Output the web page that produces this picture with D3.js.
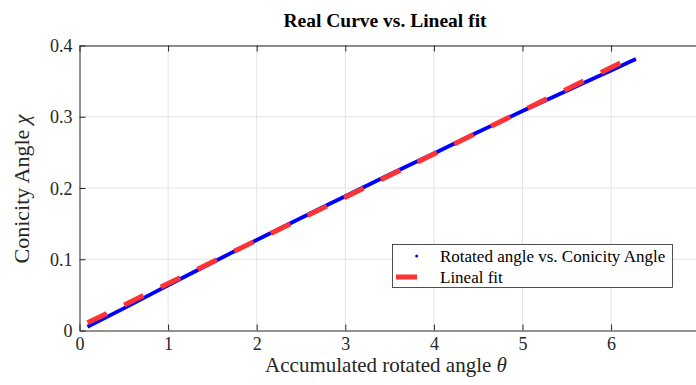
<!DOCTYPE html>
<html>
<head>
<meta charset="utf-8">
<script src="https://cdn.jsdelivr.net/npm/d3@7"></script>
<style>
  body { margin: 0; background: #fff; }
  svg { display: block; font-family: "Liberation Serif", "Times New Roman", serif; }
</style>
</head>
<body>
<div id="chart"></div>
<script>
// Chart size
var width = 696;
var height = 385;

var thetaValues = [0.09, 0.5, 1, 1.5, 2, 2.5, 3, 3.5, 4, 4.5, 5, 5.5, 6, 6.28];
var chiValues = [0.0053, 0.031, 0.0635, 0.0955, 0.127, 0.158, 0.1885, 0.219, 0.2485, 0.2785, 0.308, 0.3365, 0.365, 0.381];

// Lineal fit end points
var fitTheta = [0.09, 6.28];
var fitChi = [0.0108, 0.386];

// Ticks
var xTicks = [0, 1, 2, 3, 4, 5, 6, 7];
var yTicks = [0, 0.1, 0.2, 0.3, 0.4];
var legendLabels = ["Rotated angle vs. Conicity Angle", "Lineal fit"];

// Plot box
var plotLeft = 79.5, plotRight = 699.7, plotTop = 45.5, plotBottom = 330.5;

var x = d3.scaleLinear().domain([0, 7]).range([plotLeft, plotRight]);
var y = d3.scaleLinear().domain([0, 0.4]).range([plotBottom, plotTop]);

var svg = d3.select("#chart")
    .append("svg")
    .attr("width", width)
    .attr("height", height);

// Grid lines
svg.append("g")
    .selectAll("line")
    .data(xTicks.slice(1))
    .enter()
    .append("line")
    .attr("x1", d => x(d)).attr("x2", d => x(d))
    .attr("y1", plotTop).attr("y2", plotBottom)
    .attr("stroke", "#e3e3e3")
    .attr("stroke-width", 1);

svg.append("g")
    .selectAll("line")
    .data(yTicks.slice(1))
    .enter()
    .append("line")
    .attr("x1", plotLeft).attr("x2", plotRight)
    .attr("y1", d => y(d)).attr("y2", d => y(d))
    .attr("stroke", "#e3e3e3")
    .attr("stroke-width", 1);

// Axes with inward ticks
var xAxis = svg.append("g")
    .attr("transform", "translate(0," + plotBottom + ")")
    .call(d3.axisBottom(x).tickValues(xTicks).tickSizeInner(-6).tickSizeOuter(0).tickFormat(d3.format("d")));
var xAxisTop = svg.append("g")
    .attr("transform", "translate(0," + plotTop + ")")
    .call(d3.axisTop(x).tickValues(xTicks).tickSizeInner(-6).tickSizeOuter(0).tickFormat(""));
var yAxis = svg.append("g")
    .attr("transform", "translate(" + plotLeft + ",0)")
    .call(d3.axisLeft(y).tickValues(yTicks).tickSizeInner(-6).tickSizeOuter(0).tickFormat(d => d === 0 ? "0" : d3.format(".1f")(d)));

[xAxis, xAxisTop, yAxis].forEach(function (g) {
    g.selectAll("path, line").attr("stroke", "#262626").attr("stroke-width", 1);
    g.selectAll("text")
        .attr("fill", "#262626")
        .style("font-family", "'Liberation Serif', serif")
        .style("font-size", "18px");
});
xAxis.selectAll("text").attr("y", 7).attr("dy", "0.71em");
yAxis.selectAll("text").attr("x", -7).attr("dy", "0.34em");

// Real curve (dense blue markers)
var line = d3.line()
    .x(function (d, i) { return x(thetaValues[i]); })
    .y(function (d) { return y(d); })
    .curve(d3.curveMonotoneX);

svg.append("path")
    .datum(chiValues)
    .attr("d", line)
    .attr("fill", "none")
    .attr("stroke", "#0000ff")
    .attr("stroke-width", 3.8)
    .attr("stroke-linejoin", "round");

// Lineal fit (dashed red)
var fitLine = d3.line()
    .x(function (d, i) { return x(fitTheta[i]); })
    .y(function (d) { return y(d); });

svg.append("path")
    .datum(fitChi)
    .attr("d", fitLine)
    .attr("fill", "none")
    .attr("stroke", "#ff3333")
    .attr("stroke-width", 5)
    .attr("stroke-dasharray", "21.5,19.3");

// Title and axis labels
svg.append("text")
    .attr("x", 385)
    .attr("y", 27)
    .attr("text-anchor", "middle")
    .attr("font-weight", "bold")
    .attr("font-size", "19.5px")
    .attr("fill", "#000")
    .text("Real Curve vs. Lineal fit");

var xLabel = svg.append("text")
    .attr("x", 386)
    .attr("y", 372)
    .attr("text-anchor", "middle")
    .attr("font-size", "21px")
    .attr("fill", "#262626");
xLabel.append("tspan").text("Accumulated rotated angle ");
xLabel.append("tspan").attr("font-style", "italic").text("θ");

var yLabel = svg.append("text")
    .attr("transform", "translate(29,189) rotate(-90)")
    .attr("text-anchor", "middle")
    .attr("font-size", "22px")
    .attr("fill", "#262626");
yLabel.append("tspan").text("Conicity Angle ");
yLabel.append("tspan").attr("font-style", "italic").text("χ");

// Legend
var legend = svg.append("g");
legend.append("rect")
    .attr("x", 392.5).attr("y", 244.5)
    .attr("width", 280).attr("height", 43)
    .attr("fill", "#fff")
    .attr("stroke", "#262626")
    .attr("stroke-width", 0.8);

legend.append("circle")
    .attr("cx", 416.7).attr("cy", 256)
    .attr("r", 1.5)
    .attr("fill", "#0000ff");

legend.append("line")
    .attr("x1", 396).attr("x2", 417)
    .attr("y1", 277).attr("y2", 277)
    .attr("stroke", "#ff3333")
    .attr("stroke-width", 5);

legend.selectAll("text.lab")
    .data(legendLabels)
    .enter()
    .append("text")
    .attr("class", "lab")
    .attr("x", 440)
    .attr("y", (d, i) => 262 + i * 21)
    .attr("font-size", "17px")
    .attr("fill", "#000")
    .text(d => d);
</script>
</body>
</html>
